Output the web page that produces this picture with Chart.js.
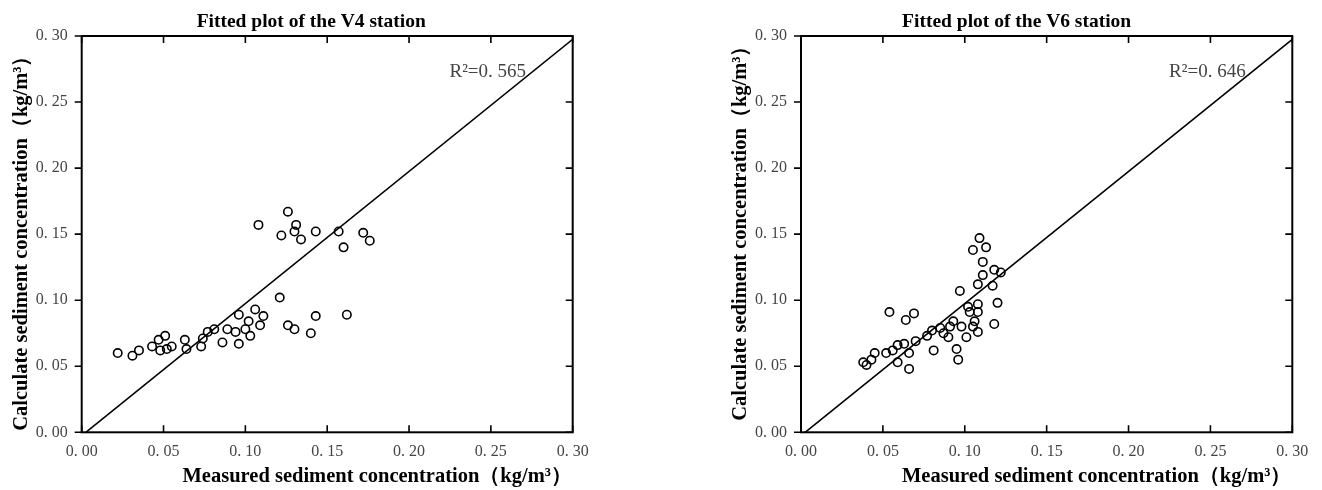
<!DOCTYPE html>
<html>
<head>
<meta charset="utf-8">
<script src="https://cdn.jsdelivr.net/npm/chart.js@4/dist/chart.umd.min.js"></script>
<style>
  body { margin: 0; background: #fff; }
  .box { position: absolute; top: 0; width: 661px; height: 490px; }
</style>
</head>
<body>
<div class="box" style="left:0"><canvas id="v4" width="661" height="490"></canvas></div>
<div class="box" style="left:661px"><canvas id="v6" width="661" height="490"></canvas></div>
<script>
/* DATA */
const v4X = [0.022, 0.031, 0.035, 0.043, 0.047, 0.051, 0.048, 0.052, 0.055, 0.063, 0.064,
  0.073, 0.074, 0.077, 0.081, 0.086, 0.089, 0.094, 0.096, 0.096, 0.100, 0.102, 0.103,
  0.106, 0.109, 0.111, 0.108, 0.121, 0.122, 0.126, 0.131, 0.130, 0.134, 0.126, 0.130,
  0.140, 0.143, 0.143, 0.157, 0.160, 0.162, 0.172, 0.176];
const v4Y = [0.060, 0.058, 0.062, 0.065, 0.070, 0.073, 0.062, 0.063, 0.065, 0.070, 0.063,
  0.065, 0.071, 0.076, 0.078, 0.068, 0.078, 0.076, 0.089, 0.067, 0.078, 0.084, 0.073,
  0.093, 0.081, 0.088, 0.157, 0.102, 0.149, 0.167, 0.157, 0.152, 0.146, 0.081, 0.078,
  0.075, 0.088, 0.152, 0.152, 0.140, 0.089, 0.151, 0.145];

const v6X = [0.038, 0.040, 0.043, 0.045, 0.052, 0.054, 0.056, 0.059, 0.059, 0.063, 0.064,
  0.066, 0.066, 0.069, 0.070, 0.077, 0.080, 0.081, 0.085, 0.087, 0.090, 0.091, 0.093,
  0.095, 0.096, 0.098, 0.097, 0.101, 0.102, 0.103, 0.105, 0.106, 0.108, 0.108, 0.108,
  0.108, 0.111, 0.111, 0.105, 0.109, 0.113, 0.117, 0.118, 0.118, 0.120, 0.122];
const v6Y = [0.053, 0.051, 0.055, 0.060, 0.060, 0.091, 0.062, 0.066, 0.053, 0.067, 0.085,
  0.060, 0.048, 0.090, 0.069, 0.073, 0.077, 0.062, 0.079, 0.075, 0.072, 0.080, 0.084,
  0.063, 0.055, 0.080, 0.107, 0.072, 0.095, 0.091, 0.080, 0.084, 0.091, 0.097, 0.076,
  0.112, 0.119, 0.129, 0.138, 0.147, 0.140, 0.111, 0.082, 0.123, 0.098, 0.121];

const lineX = [0.0025, 0.3];
const lineY = [0, 0.2975];

const tickLabels = ["0. 00", "0. 05", "0. 10", "0. 15", "0. 20", "0. 25", "0. 30"];

const xTitle = "Measured sediment concentration（kg/m³）";
const yTitle = "Calculate sediment concentration（kg/m³）";

const serif = "'Liberation Serif', 'DejaVu Serif', serif";

/* FRAME, INNER TICKS, TEXTS */
const decor = {
  id: "decor",
  afterDraw(c) {
    const { ctx, chartArea: a, scales: { x, y } } = c;
    const o = c.options.plugins.decor;
    ctx.save();
    ctx.strokeStyle = "#000";
    ctx.lineWidth = 2;
    ctx.strokeRect(a.left, a.top, a.right - a.left, a.bottom - a.top);

    ctx.lineWidth = 1.6;
    ctx.beginPath();
    x.ticks.forEach(t => {
      const px = x.getPixelForValue(t.value);
      ctx.moveTo(px, a.bottom); ctx.lineTo(px, a.bottom - 7);
      ctx.moveTo(px, a.top); ctx.lineTo(px, a.top + 7);
    });
    y.ticks.forEach(t => {
      const py = y.getPixelForValue(t.value);
      ctx.moveTo(a.left, py); ctx.lineTo(a.left - 7, py);
      ctx.moveTo(a.right, py); ctx.lineTo(a.right - 7, py);
    });
    ctx.stroke();

    const cx = (a.left + a.right) / 2;
    const cy = (a.top + a.bottom) / 2;
    ctx.fillStyle = "#000";
    ctx.textAlign = "center";
    ctx.textBaseline = "middle";
    ctx.font = "bold 19.5px " + serif;
    ctx.fillText(o.title, cx + o.titleDx, 22);
    ctx.font = "bold 20.5px " + serif;
    ctx.fillText(xTitle, cx + 50, 477);

    ctx.save();
    ctx.translate(a.left - 60, cy + o.yTitleDy);
    ctx.rotate(-Math.PI / 2);
    ctx.fillText(yTitle, 0, 0);
    ctx.restore();

    ctx.fillStyle = "#444";
    ctx.textAlign = "right";
    ctx.font = "19px " + serif;
    ctx.fillText(o.r2, x.getPixelForValue(0.2715), y.getPixelForValue(0.2725));
    ctx.restore();
  }
};

/* CHART */
function makeChart(id, xs, ys, decor_, padRight, leftW) {
  const pts = xs.map((v, i) => ({ x: v, y: ys[i] }));
  const diag = lineX.map((v, i) => ({ x: v, y: lineY[i] }));
  const tickFont = { family: serif, size: 16 };

  return new Chart(document.getElementById(id), {
    type: "scatter",
    data: {
      datasets: [
        {
          data: pts,
          pointRadius: 4.2,
          pointBorderWidth: 1.6,
          pointBorderColor: "#000",
          pointBackgroundColor: "rgba(0,0,0,0)"
        },
        {
          type: "line",
          data: diag,
          borderColor: "#000",
          borderWidth: 1.6,
          pointRadius: 0,
          fill: false
        }
      ]
    },
    options: {
      responsive: false,
      animation: false,
      layout: { padding: { top: 36, right: padRight, bottom: 0, left: 0 } },
      plugins: {
        legend: { display: false },
        tooltip: { enabled: false },
        decor: decor_
      },
      scales: {
        x: {
          type: "linear",
          min: 0,
          max: 0.3,
          grid: { display: false, drawTicks: false },
          border: { display: false },
          ticks: {
            stepSize: 0.05,
            padding: 10,
            color: "#444",
            font: tickFont,
            maxRotation: 0,
            callback: (v, i) => tickLabels[i]
          },
          afterFit: s => { s.height = 57.7; }
        },
        y: {
          type: "linear",
          min: 0,
          max: 0.3,
          grid: { display: false, drawTicks: false },
          border: { display: false },
          ticks: {
            stepSize: 0.05,
            padding: 14,
            color: "#444",
            font: tickFont,
            callback: (v, i) => tickLabels[i]
          },
          afterFit: s => { s.width = leftW; }
        }
      }
    },
    plugins: [decor]
  });
}

makeChart("v4", v4X, v4Y,
  { title: "Fitted plot of the V4 station", r2: "R²=0. 565", titleDx: -16, yTitleDy: 4 }, 88.3, 81.7);
makeChart("v6", v6X, v6Y,
  { title: "Fitted plot of the V6 station", r2: "R²=0. 646", titleDx: -30, yTitleDy: -6 }, 29.7, 140);
</script>
</body>
</html>
